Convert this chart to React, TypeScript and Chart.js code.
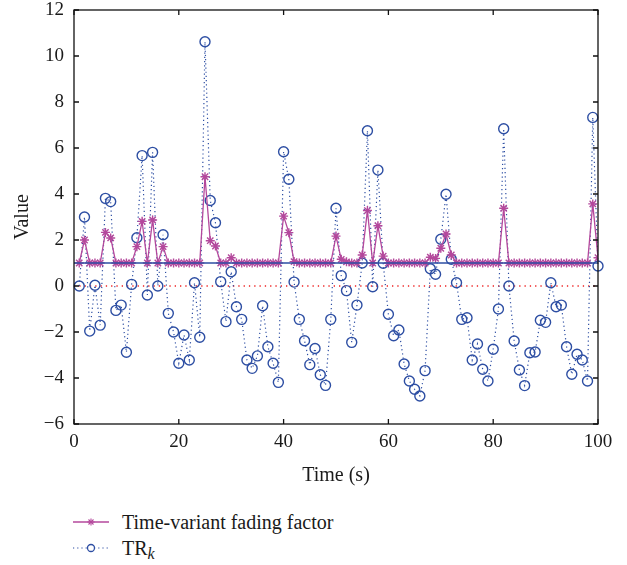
import React, { useEffect, useRef } from 'react';
import { Chart, registerables } from 'chart.js';

Chart.register(...registerables);

const TIME = [
  1, 2, 3, 4, 5, 6, 7, 8, 9, 10, 11, 12, 13, 14, 15, 16, 17, 18, 19, 20,
  21, 22, 23, 24, 25, 26, 27, 28, 29, 30, 31, 32, 33, 34, 35, 36, 37, 38, 39, 40,
  41, 42, 43, 44, 45, 46, 47, 48, 49, 50, 51, 52, 53, 54, 55, 56, 57, 58, 59, 60,
  61, 62, 63, 64, 65, 66, 67, 68, 69, 70, 71, 72, 73, 74, 75, 76, 77, 78, 79, 80,
  81, 82, 83, 84, 85, 86, 87, 88, 89, 90, 91, 92, 93, 94, 95, 96, 97, 98, 99, 100,
];

const TR_K = [
  0.0, 3.0, -1.96, 0.03, -1.7, 3.81, 3.67, -1.06, -0.83, -2.88,
  0.07, 2.1, 5.67, -0.39, 5.81, 0.0, 2.23, -1.19, -2.0, -3.36,
  -2.13, -3.22, 0.14, -2.23, 10.62, 3.72, 2.75, 0.19, -1.55, 0.62,
  -0.9, -1.45, -3.22, -3.58, -3.04, -0.86, -2.64, -3.36, -4.19, 5.84,
  4.64, 0.17, -1.45, -2.38, -3.42, -2.72, -3.86, -4.32, -1.45, 3.38,
  0.45, -0.2, -2.45, -0.83, 1.0, 6.75, -0.03, 5.04, 0.99, -1.23,
  -2.16, -1.91, -3.39, -4.13, -4.49, -4.78, -3.68, 0.75, 0.51, 2.03,
  3.99, 1.16, 0.14, -1.45, -1.38, -3.22, -2.52, -3.62, -4.13, -2.75,
  -1.0, 6.84, 0.0, -2.39, -3.65, -4.33, -2.9, -2.87, -1.49, -1.58,
  0.14, -0.9, -0.83, -2.64, -3.84, -2.97, -3.22, -4.13, 7.33, 0.87,
];

const FADING = [
  1, 2.0, 1, 1, 1, 2.33, 2.09, 1, 1, 1,
  1, 1.71, 2.81, 1, 2.87, 1, 1.71, 1, 1, 1,
  1, 1, 1, 1, 4.75, 1.97, 1.74, 1, 1, 1.23,
  1, 1, 1, 1, 1, 1, 1, 1, 1, 3.04,
  2.32, 1.06, 1, 1, 1, 1, 1, 1, 1, 2.17,
  1.16, 1.05, 1, 1, 1.35, 3.28, 1, 2.62, 1.3, 1,
  1, 1, 1, 1, 1, 1, 1, 1.25, 1.2, 1.64,
  2.26, 1.35, 1, 1, 1, 1, 1, 1, 1, 1,
  1, 3.38, 1, 1, 1, 1, 1, 1, 1, 1,
  1, 1, 1, 1, 1, 1, 1, 1, 3.57, 1.23,
];

const X_RANGE = [0, 100];
const Y_RANGE = [-6, 12];
const X_TICKS = [0, 20, 40, 60, 80, 100];
const Y_TICKS = [-6, -4, -2, 0, 2, 4, 6, 8, 10, 12];
const UNIT_LINE = [1, 1];
const ZERO_LINE = [0, 0];

const MAGENTA = '#b4489c';
const BLUE = '#2d4ea3';
const RED = '#ee2222';
const FONT = '"Liberation Serif", "Times New Roman", serif';
const TEXT = '#1a1a1a';

const framePlugin = {
  id: 'frame',
  afterDatasetsDraw(chart: any) {
    const { ctx, chartArea } = chart;
    const { left, right, top, bottom } = chartArea;
    const xs = chart.scales.x;
    const ys = chart.scales.y;
    const tl = 5;
    ctx.save();
    ctx.strokeStyle = '#111';
    ctx.lineWidth = 1.3;
    ctx.strokeRect(left, top, right - left, bottom - top);
    ctx.beginPath();
    X_TICKS.forEach((v) => {
      const px = xs.getPixelForValue(v);
      ctx.moveTo(px, bottom);
      ctx.lineTo(px, bottom - tl);
      ctx.moveTo(px, top);
      ctx.lineTo(px, top + tl);
    });
    Y_TICKS.forEach((v) => {
      const py = ys.getPixelForValue(v);
      ctx.moveTo(left, py);
      ctx.lineTo(left + tl, py);
      ctx.moveTo(right, py);
      ctx.lineTo(right - tl, py);
    });
    ctx.stroke();
    ctx.restore();
  },
};

export default function App() {
  const ref = useRef<HTMLCanvasElement>(null);

  useEffect(() => {
    if (!ref.current) return;
    const chart = new Chart(ref.current, {
      type: 'line',
      data: {
        datasets: [
          {
            label: 'unit',
            data: X_RANGE.map((x, i) => ({ x, y: UNIT_LINE[i] })),
            borderColor: BLUE,
            borderWidth: 1.3,
            pointRadius: 0,
            order: 1,
          },
          {
            label: 'Time-variant fading factor',
            data: TIME.map((t, i) => ({ x: t, y: FADING[i] })),
            borderColor: MAGENTA,
            borderWidth: 1.3,
            pointStyle: 'star',
            pointRadius: 4.5,
            pointBorderColor: MAGENTA,
            pointBackgroundColor: MAGENTA,
            pointBorderWidth: 1.4,
            order: 2,
          },
          {
            label: 'TRk',
            data: TIME.map((t, i) => ({ x: t, y: TR_K[i] })),
            borderColor: BLUE,
            borderWidth: 1.2,
            borderDash: [1.2, 3],
            pointStyle: 'circle',
            pointRadius: 5,
            pointBorderColor: BLUE,
            pointBackgroundColor: 'rgba(0,0,0,0)',
            pointBorderWidth: 1.4,
            clip: false,
            order: 3,
          },
          {
            label: 'zero',
            data: X_RANGE.map((x, i) => ({ x, y: ZERO_LINE[i] })),
            borderColor: RED,
            borderWidth: 1.3,
            borderDash: [1.3, 4],
            pointRadius: 0,
            order: 4,
          },
        ],
      },
      options: {
        responsive: false,
        animation: false,
        layout: { padding: { left: 0, right: 29, top: 10, bottom: 0 } },
        plugins: {
          legend: { display: false },
          tooltip: { enabled: false },
        },
        scales: {
          x: {
            type: 'linear',
            min: X_RANGE[0],
            max: X_RANGE[1],
            grid: { display: false, drawTicks: false },
            border: { display: false },
            afterBuildTicks: (s: any) => {
              s.ticks = X_TICKS.map((value) => ({ value }));
            },
            afterFit: (s: any) => {
              s.height = 76;
              s.paddingLeft = 0;
              s.paddingRight = 0;
            },
            ticks: {
              font: { family: FONT, size: 19, lineHeight: 1 },
              color: TEXT,
              padding: 9,
              maxRotation: 0,
            },
            title: {
              display: true,
              text: 'Time (s)',
              font: { family: FONT, size: 20 },
              color: TEXT,
              padding: { top: 0, bottom: 12 },
            },
          },
          y: {
            type: 'linear',
            min: Y_RANGE[0],
            max: Y_RANGE[1],
            grid: { display: false, drawTicks: false },
            border: { display: false },
            afterBuildTicks: (s: any) => {
              s.ticks = Y_TICKS.map((value) => ({ value }));
            },
            afterFit: (s: any) => {
              s.width = 74;
              s.paddingTop = 0;
              s.paddingBottom = 0;
            },
            ticks: {
              font: { family: FONT, size: 19, lineHeight: 1 },
              color: TEXT,
              padding: 10,
              callback: (v: any) => String(v).replace('-', '\u2212'),
            },
            title: {
              display: true,
              text: 'Value',
              font: { family: FONT, size: 20 },
              color: TEXT,
              padding: { top: 11, bottom: 0 },
            },
          },
        },
      },
      plugins: [framePlugin],
    } as any);
    return () => chart.destroy();
  }, []);

  const rowStyle: React.CSSProperties = {
    display: 'flex',
    alignItems: 'center',
    height: 26,
  };

  return (
    <div
      style={{
        position: 'fixed',
        left: 0,
        top: 0,
        width: 627,
        height: 565,
        background: '#fff',
      }}
    >
      <canvas
        ref={ref}
        width={627}
        height={500}
        style={{ position: 'absolute', left: 0, top: 0, width: 627, height: 500 }}
      />
      <div
        style={{
          position: 'absolute',
          left: 73,
          top: 509,
          fontFamily: FONT,
          fontSize: 20,
          color: TEXT,
        }}
      >
        <div style={rowStyle}>
          <svg width={36} height={14} style={{ display: 'block' }}>
            <line x1={0} y1={7} x2={36} y2={7} stroke={MAGENTA} strokeWidth={1.3} />
            <g stroke={MAGENTA} strokeWidth={1.1}>
              <line x1={18} y1={3.5} x2={18} y2={10.5} />
              <line x1={14.5} y1={7} x2={21.5} y2={7} />
              <line x1={15.5} y1={4.5} x2={20.5} y2={9.5} />
              <line x1={15.5} y1={9.5} x2={20.5} y2={4.5} />
            </g>
          </svg>
          <span style={{ marginLeft: 13 }}>Time-variant fading factor</span>
        </div>
        <div style={rowStyle}>
          <svg width={36} height={14} style={{ display: 'block' }}>
            <line
              x1={0}
              y1={7}
              x2={36}
              y2={7}
              stroke={BLUE}
              strokeWidth={1.2}
              strokeDasharray="1.2 3"
            />
            <circle cx={18} cy={7} r={3.5} fill="#fff" stroke={BLUE} strokeWidth={1.3} />
          </svg>
          <span style={{ marginLeft: 13 }}>
            TR<sub style={{ fontStyle: 'italic', fontSize: 16, verticalAlign: '-0.25em', lineHeight: 0 }}>k</sub>
          </span>
        </div>
      </div>
    </div>
  );
}
